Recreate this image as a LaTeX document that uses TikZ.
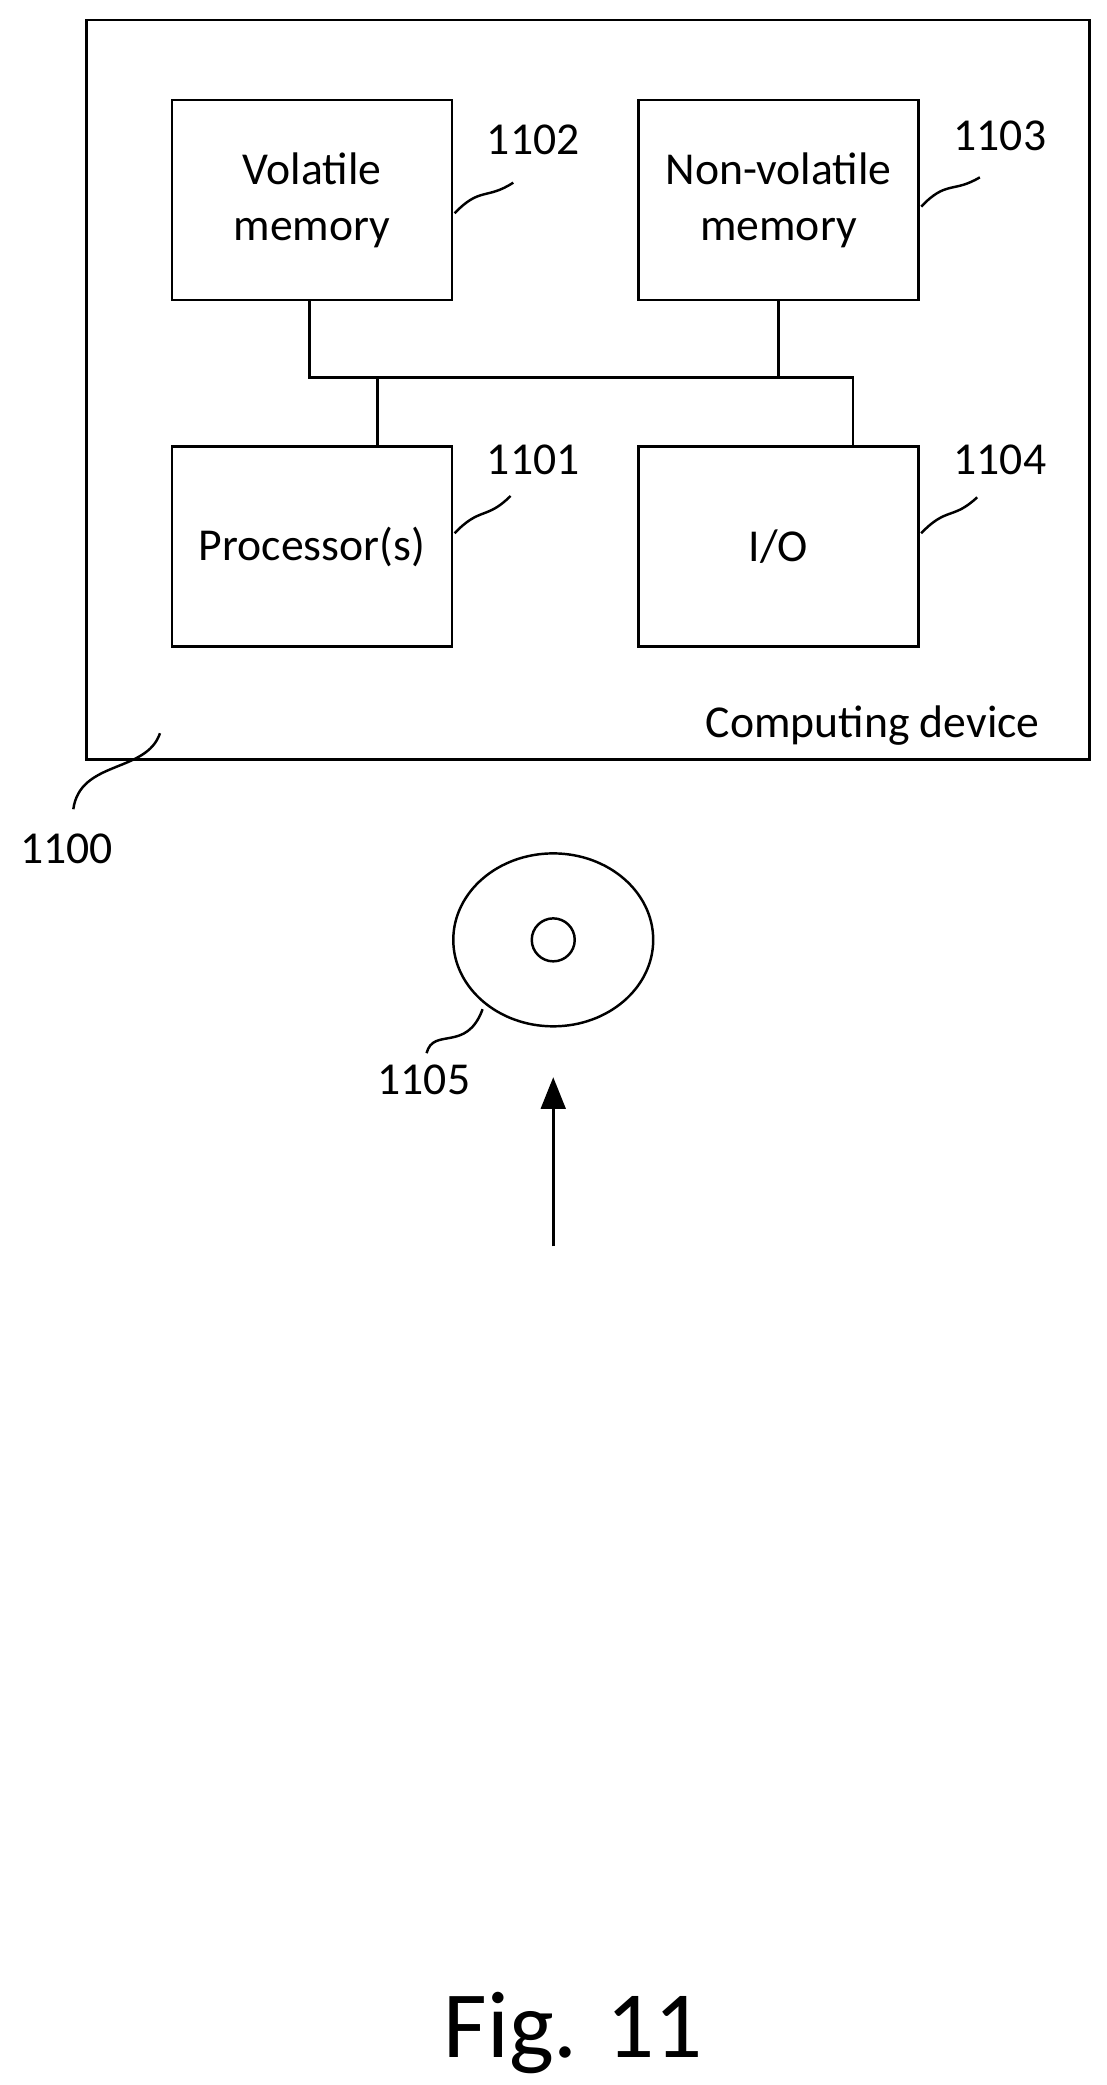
\documentclass[tikz,border=0pt]{standalone}
\usepackage{fontspec}
\setmainfont{Carlito}
\usetikzlibrary{positioning,arrows.meta,shapes.geometric}

\begin{document}
\begin{tikzpicture}[x=0.01334cm, y=-0.01334cm,
  unit/.style={draw, line width=0.7pt, minimum width=2.8cm, minimum height=2cm,
    align=center, font=\fontsize{13}{16}\selectfont, inner sep=0pt},
  ref/.style={font=\fontsize{13}{16}\selectfont, inner sep=1pt},
  lead/.style={line width=0.7pt},
  bus/.style={line width=0.7pt}
]
  \useasboundingbox (0,0) rectangle (830,1564);
  % outer device
  \draw[line width=0.8pt] (65,15) rectangle (817,570);
  \node[ref, anchor=south east] (devname) at (783,562) {Computing device};

  % units
  \node[unit] (vol) at (234,150) {Volatile\\memory};
  \node[unit] (nvol) at (584,150) {Non-volatile\\memory};
  \node[unit] (proc) at (234,410) {Processor(s)};
  \node[unit] (io) at (584,410) {I/O};

  % bus
  \coordinate (busl) at (232,283);
  \coordinate (busr) at (640,283);
  \draw[bus] (vol.south -| busl) -- (busl) -- (busr) -- (io.north -| busr);
  \draw[bus] (nvol.south) -- (nvol.south |- busl);
  \draw[bus] (proc.north -| 283,0) -- (283,283);

  % reference numerals
  \node[ref] (n1102) at (400,105) {1102};
  \node[ref] (n1103) at (750,102) {1103};
  \node[ref] (n1101) at (400,345) {1101};
  \node[ref] (n1104) at (750,345) {1104};
  \node[ref] (n1100) at (50,637) {1100};
  \node[ref] (n1105) at (318,810) {1105};

  \draw[lead] (341,160) .. controls (360,140) and (365,150) .. (385,137);
  \draw[lead] (691,155) .. controls (710,135) and (715,145) .. (735,133);
  \draw[lead] (341,400) .. controls (360,380) and (365,390) .. (383,372);
  \draw[lead] (691,400) .. controls (710,380) and (715,390) .. (733,373);
  \draw[lead] (120,550) .. controls (110,580) and (60,570) .. (55,607);
  \draw[lead] (362,757) .. controls (350,790) and (325,770) .. (320,790);

  % medium
  \node[draw, ellipse, line width=0.7pt, minimum width=2cm, minimum height=1.73cm] (disc) at (415,705) {};
  \node[draw, circle, line width=0.7pt, minimum size=0.43cm, inner sep=0pt] (hole) at (415,705) {};

  \coordinate (arrbase) at (415,935);
  \draw[line width=0.8pt, -{Triangle[length=9pt, width=7pt]}] (arrbase) -- (415,808);

  \node[font=\fontsize{27}{32}\selectfont] (fig) at (430,1525) {Fig. 11};
\end{tikzpicture}
\end{document}
